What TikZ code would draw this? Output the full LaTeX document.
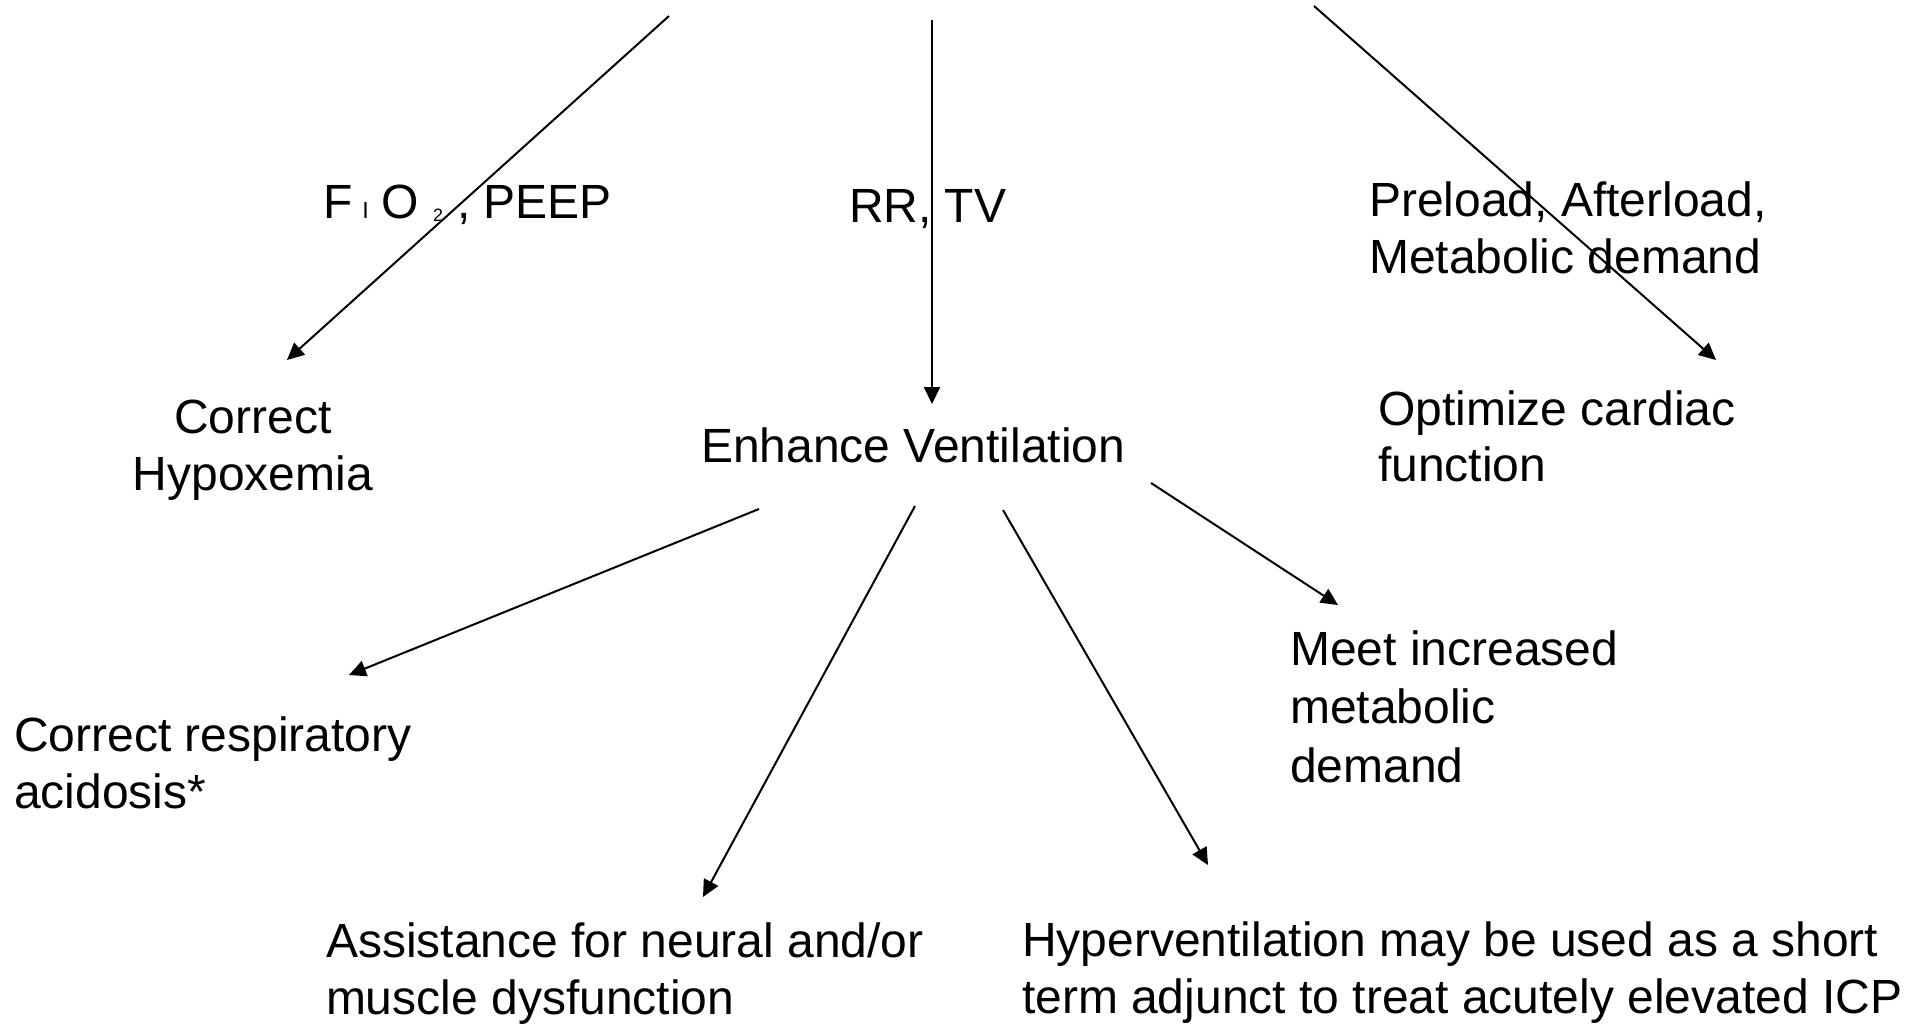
\documentclass[tikz,border=0pt]{standalone}
\usepackage{fontspec}
\setmainfont{Liberation Sans}
\usetikzlibrary{arrows.meta}
\begin{document}
\begin{tikzpicture}[x=1pt,y=-1pt,
  txt/.style={inner sep=0pt, outer sep=0pt, align=left, anchor=base west},
  fs/.style={font=\fontsize{48}{#1}\selectfont},
  arr/.style={line width=2pt, -{Triangle[width=16pt,length=17pt]}}]
\useasboundingbox[fill=white] (0,0) rectangle (1908,1024);
% labels (anchor = baseline of the last line)
\node[txt,fs=58] (fio) at (323,219) {F\hspace{10pt}\resizebox{!}{16pt}{I}\hspace{13pt}O\hspace{14pt}\raisebox{-3pt}{\resizebox{!}{12.5pt}{2}}\hspace{14pt}, PEEP};
\node[txt,fs=58] (rrtv) at (849,223) {RR, TV};
\node[txt,fs=56] (pre) at (1369,273) {Preload, Afterload,\\Metabolic demand};
\node[txt,fs=57,align=center,anchor=base] (hyp) at (253,490) {Correct\\Hypoxemia};
\node[txt,fs=58] (ev) at (701,462) {Enhance Ventilation};
\node[txt,fs=56] (opt) at (1378,481.5) {Optimize cardiac\\function};
\node[txt,fs=57] (acid) at (14,808) {Correct respiratory\\acidosis*};
\node[txt,fs=58.5] (meet) at (1290,782) {Meet increased\\metabolic\\demand};
\node[txt,fs=57] (asst) at (326,1014) {Assistance for neural and/or\\muscle dysfunction};
\node[txt,fs=57] (hv) at (1022,1013) {Hyperventilation may be used as a short\\term adjunct to treat acutely elevated ICP};
% arrow end points
\coordinate (s1) at (669,16);  \coordinate (e1) at (287,360);
\coordinate (s2) at (932,20);  \coordinate (e2) at (932,404);
\coordinate (s3) at (1314,6);  \coordinate (e3) at (1716,360);
\coordinate (s4) at (759,509); \coordinate (e4) at (349,675);
\coordinate (s5) at (915,506); \coordinate (e5) at (703,897);
\coordinate (s6) at (1003,510); \coordinate (e6) at (1208,865);
\coordinate (s7) at (1151,483); \coordinate (e7) at (1338,605);
\draw[arr] (s1) -- (e1);
\draw[arr] (s2) -- (e2);
\draw[arr] (s3) -- (e3);
\draw[arr] (s4) -- (e4);
\draw[arr] (s5) -- (e5);
\draw[arr] (s6) -- (e6);
\draw[arr] (s7) -- (e7);
\end{tikzpicture}
\end{document}
